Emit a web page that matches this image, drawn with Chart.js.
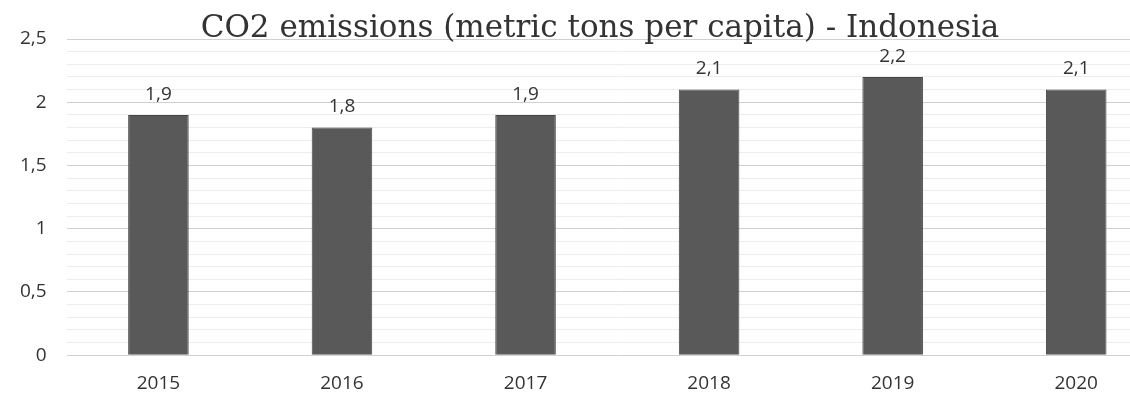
<!DOCTYPE html>
<html>
<head>
<meta charset="utf-8">
<script src="https://cdn.jsdelivr.net/npm/chart.js@4"></script>
<style>
  html, body { margin: 0; padding: 0; background: #fff; overflow: hidden; }
  #wrap { width: 1200px; height: 396px; }
</style>
</head>
<body>
<div id="wrap"><canvas id="co2Chart" width="1200" height="396"></canvas></div>
<script>
const years = ['2015', '2016', '2017', '2018', '2019', '2020'];
const emissions = [1.9, 1.8, 1.9, 2.1, 2.2, 2.1];
const chartTitle = 'CO2 emissions (metric tons per capita) - Indonesia';

// decimal comma like the original
const fmt = v => String(Math.round(v * 10) / 10).replace('.', ',');
const isMajor = v => Math.round(v * 10) % 5 === 0;
const textColor = '#333333';

// value labels above the bars + the title (centred like the original)
const extras = {
    id: 'extras',
    afterDatasetsDraw(chart) {
        const ctx = chart.ctx;
        const meta = chart.getDatasetMeta(0);
        ctx.save();
        ctx.font = '19px "Open Sans"';
        ctx.fillStyle = textColor;
        ctx.textAlign = 'center';
        ctx.textBaseline = 'bottom';
        meta.data.forEach((bar, i) => {
            ctx.fillText(fmt(emissions[i]), bar.x, bar.y - 11);
        });
        ctx.font = '31px "DejaVu Serif"';
        ctx.textBaseline = 'alphabetic';
        ctx.fillText(chartTitle, 600, 37);
        ctx.restore();
    }
};

new Chart(document.getElementById('co2Chart'), {
    type: 'bar',
    data: {
        labels: years,
        datasets: [{
            data: emissions,
            backgroundColor: '#595959',
            borderColor: '#474747',
            borderWidth: 1,
            barPercentage: 0.33,
            categoryPercentage: 1
        }]
    },
    options: {
        responsive: false,
        animation: false,
        layout: { padding: { left: 0, right: 32, top: 39, bottom: -8 } },
        plugins: {
            legend: { display: false },
            tooltip: { enabled: false },
            title: { display: false }
        },
        scales: {
            x: {
                grid: { display: false },
                border: { display: false },
                ticks: { color: textColor, font: { family: '"Open Sans"', size: 19 }, padding: 9 }
            },
            y: {
                min: 0,
                max: 2.5,
                border: { display: false },
                grid: {
                    color: ctx => isMajor(ctx.tick.value) ? '#d0d0d0' : '#ececec',
                    lineWidth: 1,
                    drawTicks: false
                },
                ticks: {
                    stepSize: 0.1,
                    autoSkip: false,
                    color: textColor,
                    font: { family: '"Open Sans"', size: 19 },
                    padding: 20,
                    callback: v => isMajor(v) ? fmt(v) : ''
                }
            }
        }
    },
    plugins: [extras]
});
</script>
</body>
</html>
